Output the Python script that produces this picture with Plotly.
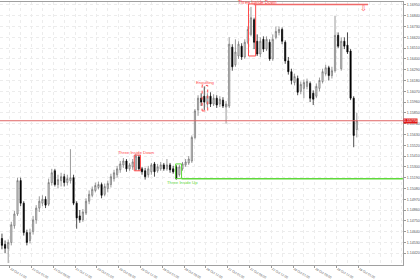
import plotly.graph_objects as go

# ---- data (H1 bars) ----
opens = [1.1457,1.1451,1.1447,1.1453,1.1470,1.1482,1.1516,1.1493,1.1463,1.1455,
         1.1464,1.1476,1.1488,1.1493,1.1497,1.1492,1.1514,1.1526,1.1512,1.1516,
         1.1520,1.1514,1.1516,1.1519,1.1493,1.1480,1.1476,1.1483,1.1495,1.1501,
         1.1506,1.1509,1.1512,1.1502,1.1508,1.1512,1.1518,1.1522,1.1527,1.1532,
         1.1536,1.1528,1.1530,1.1527,1.1540,1.1528,1.1526,1.1522,1.1525,1.1533,
         1.1526,1.1528,1.1532,1.1528,1.1532,1.1528,1.1530,1.1522,1.1528,1.1532,
         1.1534,1.1536,1.1560,1.1588,1.1600,1.1602,1.1594,1.1602,1.1594,1.1600,
         1.1594,1.1598,1.1591,1.1592,1.1652,1.1634,1.1643,1.1653,1.1642,1.1657,
         1.1665,1.1680,1.1658,1.1645,1.1660,1.1650,1.1657,1.1640,1.1662,1.1667,
         1.1670,1.1657,1.1638,1.1627,1.1616,1.1620,1.1607,1.1610,1.1612,1.1615,
         1.1605,1.1602,1.1610,1.1617,1.1625,1.1631,1.1623,1.1628,1.1664,1.1630,
         1.1658,1.1654,1.1648,1.1600,1.1568]
highs = [1.1462,1.1455,1.1456,1.1474,1.1485,1.1519,1.1519,1.1495,1.1466,1.1467,
         1.1480,1.1491,1.1500,1.1501,1.1500,1.1518,1.1528,1.1528,1.1522,1.1524,
         1.1523,1.1522,1.1548,1.1522,1.1495,1.1486,1.1487,1.1498,1.1506,1.1510,
         1.1514,1.1515,1.1514,1.1513,1.1516,1.1523,1.1527,1.1531,1.1536,1.1539,
         1.1538,1.1534,1.1538,1.1543,1.1542,1.1530,1.1529,1.1531,1.1534,1.1535,
         1.1533,1.1535,1.1534,1.1538,1.1534,1.1531,1.1532,1.1532,1.1535,1.1538,
         1.1541,1.1562,1.1589,1.1603,1.1605,1.1612,1.1605,1.1606,1.1604,1.1603,
         1.1602,1.1601,1.1597,1.1662,1.1655,1.1660,1.1658,1.1656,1.1660,1.1673,
         1.1693,1.1682,1.1665,1.1662,1.1663,1.1663,1.1660,1.1665,1.1673,1.1673,
         1.1672,1.1659,1.1642,1.1630,1.1625,1.1623,1.1617,1.1619,1.1620,1.1617,
         1.1608,1.1615,1.1621,1.1630,1.1634,1.1633,1.1632,1.1684,1.1667,1.1662,
         1.1662,1.1667,1.1650,1.1602,1.1585]
lows = [1.1446,1.1442,1.1432,1.1450,1.1467,1.1480,1.1490,1.1460,1.1450,1.1452,
        1.1461,1.1472,1.1484,1.1490,1.1488,1.1490,1.1511,1.1510,1.1508,1.1510,
        1.1510,1.1511,1.1513,1.1491,1.1467,1.1473,1.1474,1.1481,1.1492,1.1499,
        1.1504,1.1507,1.1498,1.1500,1.1504,1.1509,1.1515,1.1519,1.1524,1.1529,
        1.1525,1.1526,1.1527,1.1526,1.1526,1.1522,1.1517,1.1519,1.1522,1.1520,
        1.1524,1.1526,1.1526,1.1526,1.1524,1.1523,1.1517,1.1520,1.1526,1.1530,
        1.1532,1.1534,1.1558,1.1582,1.1592,1.1588,1.1590,1.1591,1.1592,1.1590,
        1.1591,1.1590,1.1574,1.1590,1.1628,1.1632,1.1640,1.1639,1.1640,1.1655,
        1.1663,1.1650,1.1643,1.1642,1.1647,1.1648,1.1638,1.1638,1.1660,1.1664,
        1.1655,1.1635,1.1624,1.1614,1.1613,1.1603,1.1604,1.1600,1.1609,1.1596,
        1.1593,1.1600,1.1607,1.1615,1.1623,1.1618,1.1620,1.1626,1.1651,1.1628,
        1.1650,1.1645,1.1598,1.1550,1.1560]
closes = [1.1450,1.1447,1.1453,1.1471,1.1482,1.1516,1.1493,1.1463,1.1453,1.1463,
          1.1476,1.1488,1.1495,1.1497,1.1491,1.1514,1.1524,1.1512,1.1517,1.1520,
          1.1514,1.1518,1.1519,1.1493,1.1478,1.1476,1.1484,1.1495,1.1502,1.1507,
          1.1511,1.1512,1.1501,1.1510,1.1513,1.1520,1.1524,1.1528,1.1533,1.1536,
          1.1528,1.1532,1.1535,1.1541,1.1528,1.1525,1.1520,1.1528,1.1532,1.1525,
          1.1530,1.1532,1.1528,1.1532,1.1527,1.1525,1.1518,1.1530,1.1533,1.1535,
          1.1538,1.1560,1.1587,1.1600,1.1596,1.1596,1.1602,1.1594,1.1600,1.1593,
          1.1599,1.1592,1.1594,1.1655,1.1632,1.1647,1.1655,1.1642,1.1657,1.1670,
          1.1682,1.1657,1.1645,1.1658,1.1650,1.1660,1.1640,1.1660,1.1668,1.1670,
          1.1658,1.1638,1.1627,1.1618,1.1622,1.1606,1.1614,1.1616,1.1617,1.1600,
          1.1599,1.1612,1.1618,1.1627,1.1631,1.1623,1.1628,1.1664,1.1653,1.1658,
          1.1653,1.1647,1.1600,1.1562,1.1577]

time_labels = ["23 Oct 17:00", "24 Oct 01:00", "24 Oct 09:00", "24 Oct 17:00",
               "25 Oct 01:00", "25 Oct 09:00", "25 Oct 17:00", "26 Oct 01:00",
               "26 Oct 09:00", "26 Oct 17:00", "27 Oct 01:00", "27 Oct 09:00",
               "27 Oct 17:00", "28 Oct 01:00", "28 Oct 09:00", "28 Oct 17:00",
               "29 Oct 01:00"]
price_ticks = [1.1695, 1.1684, 1.1673, 1.1662, 1.1651, 1.1640, 1.1629, 1.1618,
               1.1607, 1.1596, 1.1585, 1.1574, 1.1563, 1.1552, 1.1541, 1.1530,
               1.1519, 1.1508, 1.1497, 1.1486, 1.1475, 1.1464, 1.1453, 1.1442]
current_price = 1.1577
support_level = 1.1518
resistance_level = 1.16955

bars = list(range(len(closes)))
xt = [2.5 + 7 * k for k in range(len(time_labels))]

RED = "#ff4a4a"
GREEN = "#5fd93a"

fig = go.Figure(go.Candlestick(
    x=bars, open=opens, high=highs, low=lows, close=closes,
    increasing=dict(line=dict(color="#6e6e6e", width=0.7), fillcolor="#e4e4e4"),
    decreasing=dict(line=dict(color="#000000", width=0.7), fillcolor="#000000"),
    whiskerwidth=0, hoverinfo="skip", showlegend=False,
))

shapes = [
    dict(type="line", xref="paper", x0=0, x1=1, y0=current_price, y1=current_price,
         line=dict(color="#e06868", width=1)),
    dict(type="line", x0=57.7, x1=128.8, y0=support_level, y1=support_level,
         line=dict(color=GREEN, width=1.5)),
    dict(type="rect", x0=55.8, x1=57.7, y0=1.1518, y1=1.1533,
         line=dict(color=GREEN, width=1)),
    dict(type="rect", x0=42.5, x1=44.5, y0=1.1526, y1=1.1542,
         line=dict(color=RED, width=1)),
    dict(type="rect", x0=64.3, x1=66.1, y0=1.1587, y1=1.1613,
         line=dict(color=RED, width=1, dash="dot")),
    dict(type="rect", x0=79.2, x1=81.5, y0=1.1643, y1=1.1696,
         line=dict(color=RED, width=1)),
    dict(type="line", x0=80.9, x1=117.6, y0=resistance_level, y1=resistance_level,
         line=dict(color="#f06a6a", width=1.5)),
]

ann_font = dict(family="Liberation Sans", size=4.3)
annotations = [
    dict(x=43.3, y=1.1545, text="Three Inside Down", showarrow=False,
         font=dict(ann_font, color=RED)),
    dict(x=65.5, y=1.1616, text="Engulfing", showarrow=False,
         font=dict(ann_font, color=RED)),
    dict(x=58.0, y=1.1514, text="Three Inside Up", showarrow=False,
         font=dict(ann_font, color=GREEN)),
    dict(x=82.1, y=1.1698, text="Three Inside Down", showarrow=False,
         font=dict(family="Liberation Sans", size=4.6, color=RED)),
    dict(x=116.1, y=1.1691, text="⇩", showarrow=False,
         font=dict(family="DejaVu Sans", size=8, color=RED)),
    dict(xref="paper", x=1.0, xanchor="left", y=current_price, yanchor="middle",
         text="%.5f" % current_price, showarrow=False, bgcolor="#e01818",
         borderpad=0, font=dict(family="Liberation Sans", size=3.6, color="white")),
]

fig.update_layout(
    width=420, height=280,
    margin=dict(l=0, r=7, t=2, b=10),
    paper_bgcolor="white", plot_bgcolor="white",
    boxgap=0.45,
    shapes=shapes, annotations=annotations,
    font=dict(family="Liberation Sans", color="#444"),
    xaxis=dict(
        range=[-0.63, 128.84], rangeslider=dict(visible=False),
        tickmode="array", tickvals=xt, ticktext=time_labels,
        ticklabelposition="outside right",
        tickfont=dict(size=3.2, color="#555"),
        ticks="outside", ticklen=2, tickcolor="#999",
        showgrid=False, zeroline=False,
        showline=True, linecolor="#a0a0a0", linewidth=1, mirror=True,
        minor=dict(tickmode="linear", tick0=2.5, dtick=3.5, showgrid=True,
                   gridcolor="#ececec", griddash="dot", gridwidth=1, ticklen=0),
    ),
    yaxis=dict(
        side="right", range=[1.1430, 1.1698],
        tickmode="array", tickvals=price_ticks,
        ticktext=["%.5f" % v for v in price_ticks],
        tickfont=dict(size=3.6, color="#555"),
        ticks="outside", ticklen=2, tickcolor="#999",
        showgrid=True, gridcolor="#ececec", griddash="dot", gridwidth=1,
        zeroline=False, showline=True, linecolor="#a0a0a0", linewidth=1,
    ),
)

fig.write_html("out.html")
